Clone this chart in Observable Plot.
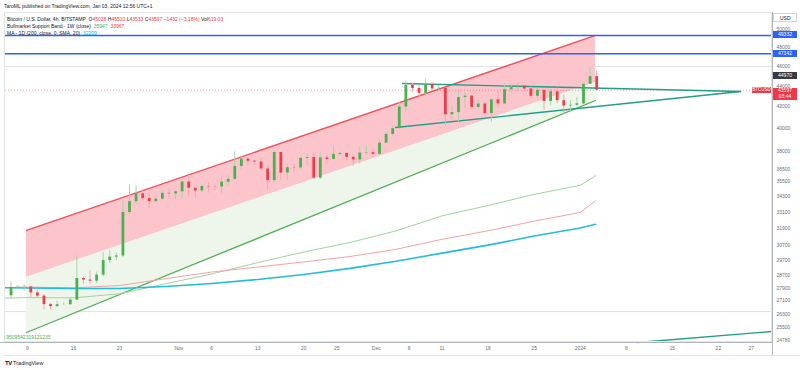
<!DOCTYPE html>
<html><head><meta charset="utf-8">
<script src="https://cdn.jsdelivr.net/npm/d3@7"></script>
<script src="https://cdn.jsdelivr.net/npm/@observablehq/plot@0.6"></script>
<style>
body{margin:0;background:#fff;font-family:"Liberation Sans",Arial,sans-serif;}
#wrap{position:relative;width:800px;height:370px;overflow:hidden;background:#fff;}
.t{position:absolute;white-space:nowrap;font-size:5px;line-height:6px;color:#131722;}
.box{position:absolute;white-space:nowrap;font-size:5px;line-height:7px;color:#fff;text-align:center;}
.ln{position:absolute;}
#chart{position:absolute;left:0;top:12px;}
</style></head><body><div id="wrap"><div id="chart"></div></div>
<script>
// ---------- daily OHLC (BTC/USD, Bitstamp) ----------
const firstDay = "2023-10-06", lastDay = "2024-01-03";
const opens = [27410,27930,27950,27960,27590,27390,26870,26750,26860,26860,27150,28500,28400,28330,28720,29680,29910,29990,33080,33900,34500,34150,33900,34090,34540,34500,
34660,35440,34940,34730,35080,35050,35040,35420,35650,36700,37320,37140,37070,36490,35550,37880,36160,36600,36580,37380,37450,35750,37420,37290,37720,37800,37470,37250,37830,37860,
37720,38690,39460,39970,41980,44080,43770,43290,44170,43720,43790,41240,41450,42890,43020,41940,42260,41360,42660,42270,43650,43860,43990,43720,43010,43580,42510,43440,42580,42070,42140,
42280,44180,44950];
const closes = [27930,27950,27960,27590,27390,26870,26750,26860,26860,27150,28500,28400,28330,28720,29680,29910,29990,33080,33900,34500,34150,33900,34090,34540,34500,34660,
35440,34940,34730,35080,35050,35040,35420,35650,36700,37320,37140,37070,36490,35550,37880,36160,36600,36580,37380,37450,35750,37420,37290,37720,37800,37470,37250,37830,37860,37720,
38690,39460,39970,41980,44080,43770,43290,44170,43720,43790,41240,41450,42890,43020,41940,42260,41360,42660,42270,43650,43860,43990,43720,43010,43580,42510,43440,42580,42070,42140,42280,
44180,44950,43597];
const highs = [28290,28030,28100,27990,27730,27480,26940,27080,26990,27300,30000,28610,28990,28920,30220,30350,30200,34000,35200,35130,34840,34480,34470,34750,34860,34720,
35580,35960,34950,35260,35380,35280,35870,35990,37940,37520,37420,37240,37430,36770,37970,37940,36850,36860,37510,37740,37860,37850,37640,38420,37900,37830,37580,38380,38390,38170,
38970,39700,40200,42400,44490,44290,44030,44720,44350,44050,43810,42100,43430,43400,43090,42700,42430,42760,43480,44280,44230,44400,44010,43930,43800,43600,43680,43800,43130,42600,42900,
44200,45900,45510];
const lows = [27180,27850,27690,27280,27300,26560,26560,26690,26810,26840,27120,28110,28140,28180,28600,29480,29670,29880,32900,33700,33900,33400,33850,34060,34070,34070,
34120,34350,34140,34560,34570,34730,34520,35120,35570,36350,36760,36770,36360,34830,35370,35560,35530,36180,36400,36720,35650,35650,36900,37250,37620,37150,36720,36890,37610,37510,
37630,38660,39280,39970,41430,43350,42820,43080,43590,43580,40200,40680,40600,41810,41680,41700,41250,40550,41850,42200,43280,43400,43580,42790,42750,41650,42100,42300,41300,41540,41970,
42180,44180,43533];

// ---------- indicators ----------
const bandDates = ["2023-10-02","2023-10-09","2023-10-16","2023-10-23","2023-10-30","2023-11-06","2023-11-13","2023-11-20","2023-11-27","2023-12-04","2023-12-11","2023-12-18","2023-12-25","2024-01-01","2024-01-03T08:00Z"];
const ema21w = [27234,27300,27286,27532,28169,28794,29546,30258,30914,31737,32833,33608,34463,35174,35947];
const sma20w = [27895,27955,27909,28053,28488,28923,29250,29588,29953,30439,31139,31743,32441,33085,33967];
const maDates = ["2023-10-02","2023-10-16","2023-10-23","2023-10-30","2023-11-06","2023-11-13","2023-11-20","2023-11-27","2023-12-04","2023-12-11","2023-12-18","2023-12-25","2024-01-01","2024-01-03T08:00Z"];
const ma200d = [27930,27865,27865,27995,28185,28440,28765,29160,29630,30180,30730,31370,31940,32209];

// ---------- drawings ----------
const channelDates = ["2023-10-08T20:20Z","2024-01-03T07:44Z"];
const channelTop = [31765,49332];
const channelMid = [28565,44362];
const channelBottom = [25230,42596];
const triDates = ["2023-12-04T23:45Z","2023-12-03T22:20Z","2024-01-25T08:40Z"];
const triUpper = [44262,43470];
const triLower = [40077,43470];
const rayDates = ["2024-01-09T16:50Z","2024-01-30T01:40Z"];
const rayValues = [24668,25287];
const hLevels = [49332,47342];
const greyLevels = [46000,26450];
const lastPrice = 43597;

// ---------- axes ----------
const yTicks = [50000,48000,46000,44000,42000,40000,38000,36500,35500,34300,33100,31900,30700,29700,28700,27900,27100,26300,25500,24780];
const xTickDates = ["2023-10-09","2023-10-16","2023-10-23","2023-11-01","2023-11-06","2023-11-13","2023-11-20","2023-11-25","2023-12-01","2023-12-06","2023-12-11","2023-12-18","2023-12-25","2024-01-01","2024-01-08","2024-01-15","2024-01-22","2024-01-27"];
const xTickLabels = ["9","16","23","Nov","6","13","20","25","Dec","6","11","18","25","2024","8","15","22","27"];

const upColor = "#4caf50", downColor = "#ef3d48";
const P = s => new Date(s.length === 10 ? s + "T00:00Z" : s);

const days = d3.utcDay.range(P(firstDay), d3.utcDay.offset(P(lastDay), 1));
const candles = days.map((d, i) => ({date: d3.utcHour.offset(d, 12), o: opens[i], h: highs[i], l: lows[i], c: closes[i]}));
const pairs = (ds, vs) => ds.map((d, i) => ({date: P(d), v: vs[i]}));
const chan = channelDates.map((d, i) => ({date: P(d), top: channelTop[i], mid: channelMid[i], bot: channelBottom[i]}));
const labelOf = new Map(xTickDates.map((d, i) => [+P(d), xTickLabels[i]]));

const day0 = Date.UTC(2023, 9, 9);
const xDomain = [new Date(day0 - 3.3435 * 864e5), new Date(day0 + 113.07 * 864e5)];

const chart = Plot.plot({
  width: 800, height: 344,
  marginTop: 1, marginBottom: 14, marginLeft: 5, marginRight: 29,
  style: {fontFamily: "'Liberation Sans', Arial, sans-serif", fontSize: "5px", color: "#5d606b", background: "transparent", overflow: "visible"},
  x: {type: "utc", domain: xDomain},
  y: {type: "log", domain: [24668, 51839]},
  color: {type: "identity"},
  marks: [
    Plot.ruleY(greyLevels, {stroke: "#dfe1e6", strokeWidth: 1}),
    Plot.areaY(chan, {x: "date", y1: "mid", y2: "top", fill: "#fcc5cc", curve: "linear"}),
    Plot.areaY(chan, {x: "date", y1: "bot", y2: "mid", fill: "#eef6ec", curve: "linear"}),
    Plot.line(chan, {x: "date", y: "top", stroke: "#f0505a", strokeWidth: 1.3}),
    Plot.line(chan, {x: "date", y: "bot", stroke: "#4caf50", strokeWidth: 1.3}),
    Plot.line(pairs(bandDates, ema21w), {x: "date", y: "v", stroke: "#9fd49f", strokeWidth: 1, clip: true}),
    Plot.line(pairs(bandDates, sma20w), {x: "date", y: "v", stroke: "#f5a3a3", strokeWidth: 1, clip: true}),
    Plot.line(pairs(maDates, ma200d), {x: "date", y: "v", stroke: "#22bcd6", strokeWidth: 1.6, clip: true}),
    Plot.ruleY([lastPrice], {stroke: "#f23645", strokeOpacity: 0.45, strokeDasharray: "1,2"}),
    Plot.ruleY(hLevels, {stroke: "#2962ff", strokeWidth: 1.4}),
    Plot.line([{date: P(triDates[0]), v: triUpper[0]}, {date: P(triDates[2]), v: triUpper[1]}], {x: "date", y: "v", stroke: "#1f9e89", strokeWidth: 1.3}),
    Plot.line([{date: P(triDates[1]), v: triLower[0]}, {date: P(triDates[2]), v: triLower[1]}], {x: "date", y: "v", stroke: "#1f9e89", strokeWidth: 1.3}),
    Plot.line(pairs(rayDates, rayValues), {x: "date", y: "v", stroke: "#1f9e89", strokeWidth: 1.3}),
    Plot.ruleX(candles, {x: "date", y1: "l", y2: "h", stroke: d => d.c >= d.o ? "#a9d3ad" : "#f4a7ab", strokeWidth: 1}),
    Plot.ruleX(candles, {x: "date", y1: "o", y2: "c", stroke: d => d.c >= d.o ? upColor : downColor, strokeWidth: 2.8}),
    Plot.axisX({ticks: xTickDates.map(P), tickFormat: d => labelOf.get(+d), tickSize: 0, tickPadding: 4, fill: "#6a6d78"}),
    Plot.axisY({anchor: "right", ticks: yTicks, tickFormat: d => String(d), tickSize: 0, tickPadding: 5, fill: "#6a6d78"})
  ]
});
document.getElementById("chart").appendChild(chart);

const wrap = document.getElementById("wrap");
const ys = chart.scale("y");
const py = v => 12 + ys.apply(v);
function add(cls, html, css) {
  const el = document.createElement("div");
  el.className = cls; el.innerHTML = html;
  Object.assign(el.style, css);
  wrap.appendChild(el); return el;
}
// chrome lines
add("ln", "", {left: "4px", top: "12px", width: "768px", height: "330px", border: "1px solid #e3e5ea", boxSizing: "border-box"});
add("ln", "", {left: "0px", top: "342px", width: "772px", height: "1px", background: "#b2b5be"});
add("ln", "", {left: "772px", top: "12px", width: "1px", height: "344px", background: "#b2b5be"});
add("ln", "", {left: "4px", top: "355px", width: "796px", height: "1px", background: "#e3e5ea"});
add("ln", "", {left: "773px", top: "13px", width: "24px", height: "9px", border: "1px solid #d1d4dc", boxSizing: "border-box", background: "#fff"});
add("t", "USD", {left: "780px", top: "14.5px", color: "#131722"});

// header and legend
add("t", "TaroML published on TradingView.com, Jan 03, 2024 12:56 UTC+1", {left: "4px", top: "3px"});
const r = s => `<span style="color:#f23645">${s}</span>`;
add("t", `Bitcoin / U.S. Dollar, 4h, BITSTAMP&nbsp; O${r("45028")} H${r("45510")} L${r("43533")} C${r("43597")} ${r("\u22121432 (\u22123.18%)")} Vol${r("619.03")}`, {left: "7px", top: "15.5px"});
add("t", `Bullmarket Support Band - 1W (close)&nbsp; <span style="color:#4caf50">35947</span>&nbsp; <span style="color:#f23645">33967</span>`, {left: "7px", top: "22.5px"});
add("t", `MA - 1D (200, close, 0, SMA, 20)&nbsp; <span style="color:#00bcd4">32209</span>`, {left: "7px", top: "29.5px"});

// price labels on the axis
const tag = (v, bg, text) => add("box", text, {left: "773px", top: (py(v) - 3.5) + "px", width: "24px", height: "7px", background: bg});
tag(49332, "#2962ff", "49332");
tag(47342, "#2962ff", "47342");
tag(44970, "#363a45", "44970");
add("box", "43597<br>03:44", {left: "773px", top: (py(lastPrice) - 1.8) + "px", width: "24px", height: "12px", lineHeight: "5.5px", paddingTop: "0.5px", background: "#f23645", boxSizing: "border-box"});
add("box", "BTCUSD", {left: "752px", top: (py(lastPrice) - 3) + "px", width: "19px", height: "6px", lineHeight: "6px", fontSize: "4.5px", background: "#f23645"});

// label text bottom-left
add("t", "0.9509542319121235", {left: "2px", top: "334px", color: "#4caf50", clipPath: "inset(0 0 0 2px)"});
// footer
add("t", "<b style='font-size:6px;letter-spacing:-0.5px'>TV</b> TradingView", {left: "5px", top: "360px", fontSize: "5.5px", color: "#131722"});
</script></body></html>
